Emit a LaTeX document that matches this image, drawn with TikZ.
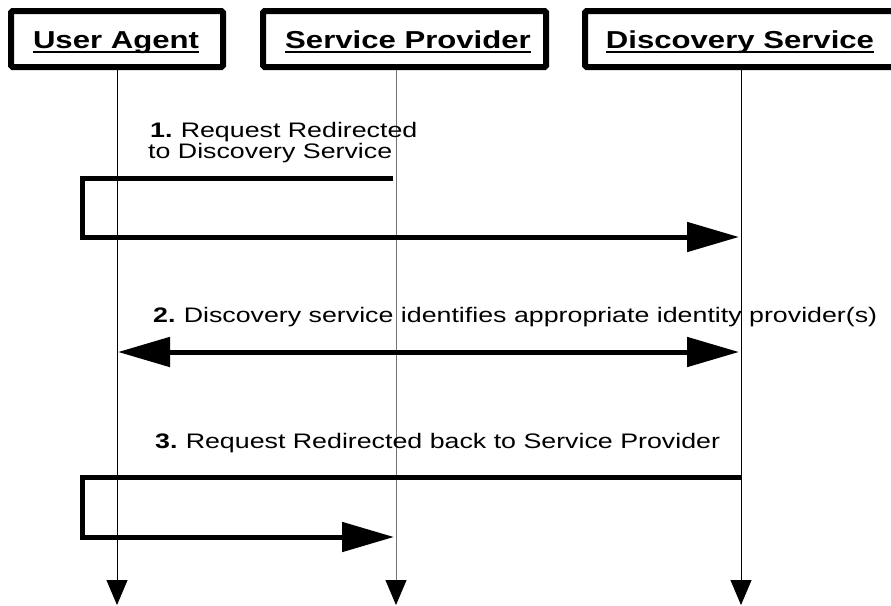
\documentclass[tikz,border=0pt]{standalone}
\usepackage{fontspec}
\setmainfont{Liberation Sans}
\newfontfamily\stretchfont[FakeStretch=1.27]{Liberation Sans}
\newfontfamily\msgstretchfont[FakeStretch=1.275]{Liberation Sans}
\usetikzlibrary{arrows.meta}
\tikzset{
  actorbox/.style={draw, line width=6pt, rounded corners=1.5pt, inner sep=0pt},
  titletext/.style={inner sep=0pt, anchor=base, font=\stretchfont\fontsize{24.5}{28}\selectfont\bfseries},
  titleline/.style={line width=1.8pt},
  msgtext/.style={inner sep=0pt, anchor=base west, font=\msgstretchfont\fontsize{21}{24}\selectfont},
  lifeline/.style={line width=0.9pt, -{Triangle[length=25pt,width=21pt,color=black]}},
  msgarrow/.style={line width=5pt, line join=miter, -{Triangle[length=52pt,width=29pt]}},
  msgdouble/.style={line width=5pt, {Triangle[length=52pt,width=29pt]}-{Triangle[length=52pt,width=29pt]}},
}
\begin{document}
\begin{tikzpicture}[x=1pt,y=-1pt]
\useasboundingbox (0,0) rectangle (891,605);
\clip (0,0) rectangle (891,605);
% actor boxes
\node[actorbox, minimum width=212pt, minimum height=56pt] (ua) at (117,39) {};
\node[actorbox, minimum width=283pt, minimum height=56pt] (sp) at (404.5,39) {};
\node[actorbox, minimum width=330pt, minimum height=56pt] (ds) at (750,39) {};
% titles
\node[titletext] (uat) at (116,48) {User Agent};
\node[titletext] (spt) at (408,48) {Service Provider};
\node[titletext] (dst) at (740,48) {Discovery Service};
\draw[titleline] ([yshift=-4pt]uat.base west) -- ([yshift=-4pt]uat.base east);
\draw[titleline] ([yshift=-4pt]spt.base west) -- ([yshift=-4pt]spt.base east);
\draw[titleline] ([yshift=-4pt]dst.base west) -- ([yshift=-4pt]dst.base east);
% lifeline coordinates
\coordinate (ua0) at (117,70);  \coordinate (ua9) at (117,605);
\coordinate (sp0) at (396,70);  \coordinate (sp9) at (396,605);
\coordinate (ds0) at (741,70);  \coordinate (ds9) at (741,605);
\draw[lifeline] (ua0) -- (ua9);
\draw[lifeline, draw=black!55] (sp0) -- (sp9);
\draw[lifeline] (ds0) -- (ds9);
% message 1
\node[msgtext] (m1a) at (150,137) {\textbf{1.}\hspace{-0.08em} Request Redirected};
\node[msgtext] (m1b) at (148,158) {to Discovery Service};
\coordinate (m1s) at (393,178);
\coordinate (m1c1) at (82,178);
\coordinate (m1c2) at (82,237);
\coordinate (m1e) at (739,237);
\draw[msgarrow] (m1s) -- (m1c1) -- (m1c2) -- (m1e);
% message 2
\node[msgtext] (m2) at (153,322) {\textbf{2.}\hspace{-0.08em} Discovery service identifies appropriate identity provider(s)};
\coordinate (m2a) at (118,352);
\coordinate (m2b) at (739,352);
\draw[msgdouble] (m2a) -- (m2b);
% message 3
\node[msgtext] (m3) at (155,448) {\textbf{3.}\hspace{-0.08em} Request Redirected back to Service Provider};
\coordinate (m3s) at (741,477);
\coordinate (m3c1) at (82,477);
\coordinate (m3c2) at (82,537);
\coordinate (m3e) at (394,537);
\draw[msgarrow] (m3s) -- (m3c1) -- (m3c2) -- (m3e);
\end{tikzpicture}
\end{document}
